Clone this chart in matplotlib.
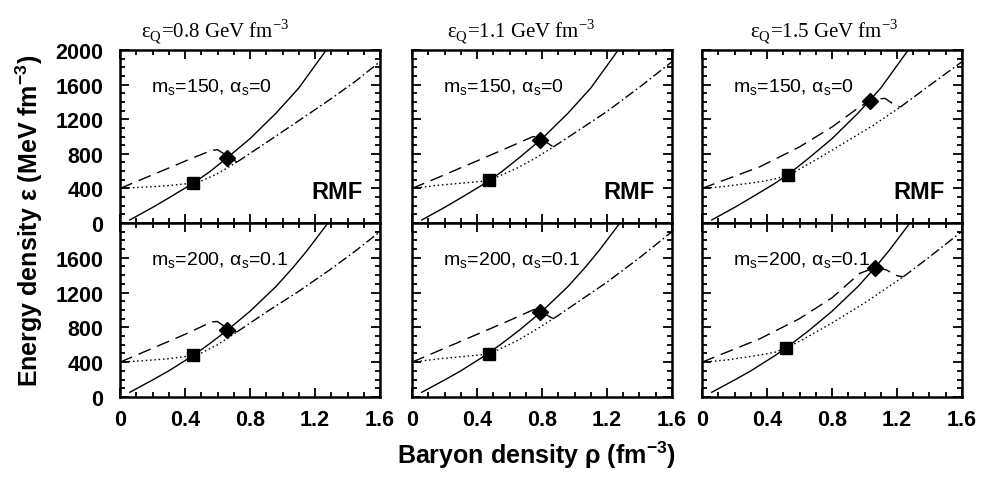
import matplotlib
matplotlib.use("Agg")
from matplotlib import pyplot as plt
from matplotlib.ticker import MultipleLocator

plt.rcParams['font.family'] = ['Liberation Sans', 'DejaVu Sans']
plt.rcParams['font.weight'] = 'bold'
plt.rcParams['lines.scale_dashes'] = False

# panel order: top row (ms=150) eps_Q 0.8, 1.1, 1.5 then bottom row (ms=200)
titles = ['0.8', '1.1', '1.5']
row_labels = ['m$_\\mathregular{s}$=150, α$_\\mathregular{s}$=0',
              'm$_\\mathregular{s}$=200, α$_\\mathregular{s}$=0.1']

# quark matter branch (solid), one per row
quark_rho = [[0.06, 0.2, 0.3, 0.45, 0.55, 0.66, 0.8, 0.96, 1.1, 1.3],
             [0.06, 0.2, 0.3, 0.45, 0.55, 0.66, 0.8, 0.96, 1.065, 1.15, 1.3]]
quark_eps = [[35, 180, 290, 460, 590, 755, 975, 1270, 1560, 2080],
             [54, 195, 300, 477, 610, 767, 985, 1270, 1488, 1680, 2050]]

# hadronic branch below the mixed phase (dotted)
dot_rho = [[0, 0.1, 0.2, 0.3, 0.45, 0.5, 0.6, 0.72],
           [0, 0.172, 0.3, 0.476, 0.55, 0.644, 0.75, 0.87],
           [0, 0.15, 0.357, 0.45, 0.531, 0.562, 0.7, 0.87, 1.05, 1.22],
           [0, 0.1, 0.2, 0.3, 0.45, 0.5, 0.6, 0.72],
           [0, 0.172, 0.3, 0.475, 0.55, 0.65, 0.75, 0.87],
           [0, 0.15, 0.35, 0.45, 0.517, 0.6, 0.8, 1.0, 1.24]]
dot_eps = [[400, 410, 420, 433, 462, 485, 570, 705],
           [400, 439, 460, 490, 555, 632, 740, 880],
           [400, 425, 477, 510, 557, 582, 730, 921, 1125, 1340],
           [400, 412, 425, 440, 477, 505, 600, 748],
           [400, 440, 462, 495, 560, 650, 760, 900],
           [400, 425, 480, 515, 563, 640, 850, 1080, 1383]]

# hadronic branch above (dash-dot)
dd_rho = [[0.72, 0.9, 1.09, 1.29, 1.45, 1.6],
          [0.87, 1.0, 1.2, 1.4, 1.6],
          [1.22, 1.4, 1.6],
          [0.72, 0.9, 1.1, 1.29, 1.45, 1.6],
          [0.87, 1.0, 1.2, 1.4, 1.6],
          [1.24, 1.4, 1.6]]
dd_eps = [[705, 930, 1170, 1425, 1640, 1865],
          [880, 1040, 1290, 1570, 1865],
          [1340, 1590, 1865],
          [748, 975, 1215, 1460, 1680, 1900],
          [900, 1065, 1320, 1600, 1900],
          [1383, 1610, 1904]]

# mixed phase (dashed)
dash_rho = [[0, 0.2, 0.4, 0.56, 0.6, 0.64, 0.68, 0.72],
            [0, 0.172, 0.4, 0.6, 0.746, 0.79, 0.83, 0.87],
            [0, 0.357, 0.6, 0.8, 0.972, 1.05, 1.126, 1.17, 1.2, 1.22],
            [0, 0.2, 0.4, 0.564, 0.6, 0.64, 0.68, 0.72],
            [0, 0.2, 0.4, 0.6, 0.75, 0.79, 0.83, 0.87],
            [0, 0.357, 0.6, 0.8, 0.97, 1.065, 1.136, 1.19, 1.22, 1.24]]
dash_eps = [[400, 557, 715, 838, 848, 800, 748, 705],
            [400, 535, 718, 880, 1000, 985, 930, 880],
            [400, 651, 880, 1110, 1345, 1430, 1441, 1385, 1352, 1340],
            [400, 560, 720, 863, 868, 815, 775, 748],
            [400, 560, 720, 880, 1005, 990, 940, 900],
            [400, 670, 900, 1140, 1420, 1488, 1460, 1400, 1386, 1383]]

# onset (square) and end (diamond) of the mixed phase
sq_rho = [0.45, 0.476, 0.531, 0.45, 0.475, 0.517]
sq_eps = [465, 492, 560, 477, 498, 563]
dia_rho = [0.66, 0.788, 1.034, 0.66, 0.79, 1.065]
dia_eps = [755, 958, 1410, 767, 972, 1488]

fig = plt.figure(figsize=(9.84, 4.85), dpi=100)
lefts = [120 / 984, 412 / 984, 702 / 984]
width = 260 / 984
rows = [(0.5381, 0.3567), (0.1794, 0.3588)]
title_x = [0.365, 0.42, 0.47]

for i in range(6):
    r, c = divmod(i, 3)
    ax = fig.add_axes([lefts[c], rows[r][0], width, rows[r][1]])
    ax.plot(quark_rho[r], quark_eps[r], color='black', lw=1.0)
    ax.plot(dot_rho[i], dot_eps[i], color='black', lw=1.0, dashes=(1.1, 2.0))
    ax.plot(dd_rho[i], dd_eps[i], color='black', lw=1.0, dashes=(7, 2.2, 1.2, 2.2))
    ax.plot(dash_rho[i], dash_eps[i], color='black', lw=1.0, dashes=(9.5, 5))
    ax.plot(sq_rho[i], sq_eps[i], 's', color='black', ms=9)
    ax.plot(dia_rho[i], dia_eps[i], 'D', color='black', ms=7.8)

    ax.set_xlim(0, 1.6)
    ax.set_ylim(0, 2000)
    ax.xaxis.set_major_locator(MultipleLocator(0.4))
    ax.xaxis.set_minor_locator(MultipleLocator(0.1))
    ax.yaxis.set_minor_locator(MultipleLocator(100))
    ax.tick_params(which='both', direction='in', top=True, right=True, width=1.3)
    ax.tick_params(which='major', length=6.5, labelsize=15.5, pad=9)
    ax.tick_params(axis='y', which='major', pad=12)
    ax.tick_params(which='minor', length=3.5)
    for s in ax.spines.values():
        s.set_linewidth(1.8)

    if r == 0:
        ax.set_yticks([0, 400, 800, 1200, 1600, 2000])
        ax.set_xticklabels([])
        ax.text(1.495, 289, 'RMF', ha='right', va='baseline', fontsize=17, fontweight='bold')
        ax.text(title_x[c], 1.11, 'ε$_\\mathregular{Q}$=' + titles[c] + ' GeV fm$^\\mathregular{-3}$',
                transform=ax.transAxes, ha='center', va='center',
                family=['Liberation Serif', 'DejaVu Serif'], fontweight='normal', fontsize=15)
    else:
        ax.set_yticks([0, 400, 800, 1200, 1600])
        ax.set_xticks([0, 0.4, 0.8, 1.2, 1.6])
        ax.set_xticklabels(['0', '0.4', '0.8', '1.2', '1.6'])
    if c != 0:
        ax.set_yticklabels([])
    ax.text(0.19, 1580, row_labels[r], ha='left', va='center', fontsize=14, fontweight='normal')

fig.text(0.03, 0.545, 'Energy density ε (MeV fm$^\\mathregular{-3}$)', rotation=90,
         ha='center', va='center', fontsize=18, fontweight='bold')
fig.text(0.545, 0.062, 'Baryon density ρ (fm$^\\mathregular{-3}$)', ha='center', va='center',
         fontsize=18, fontweight='bold')

fig.savefig('out.png', dpi=100)
